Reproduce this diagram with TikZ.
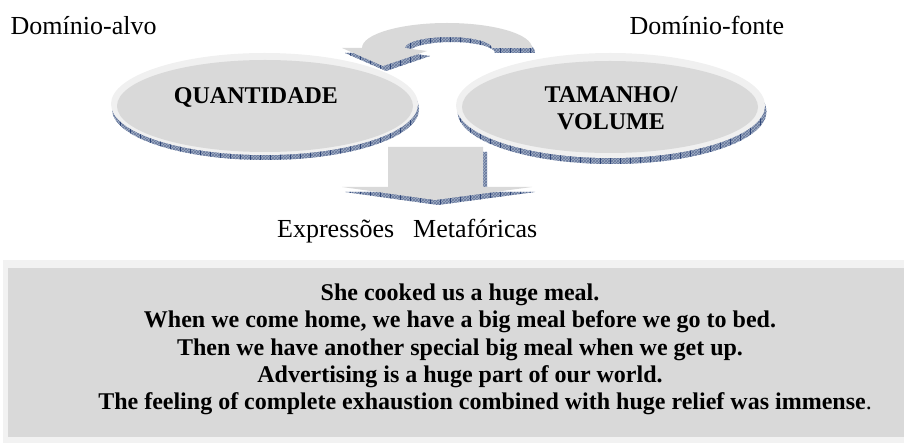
\documentclass[tikz,border=0pt]{standalone}
\usepackage{fontspec}
\setmainfont{Liberation Serif}
\usetikzlibrary{patterns}

\definecolor{shapegrey}{HTML}{D9D9D9}
\definecolor{rimgrey}{HTML}{F0F0F0}
\definecolor{bevelbase}{HTML}{A3B0C6}
\definecolor{bevelline}{HTML}{2F4678}
\definecolor{boxouter}{HTML}{F2F2F2}

\tikzset{
  x=1pt, y=-1pt,
  bevel/.style={preaction={fill=bevelbase}, pattern=crosshatch, pattern color=bevelline!75},
  face/.style={fill=shapegrey},
  rim/.style={fill=rimgrey},
  lbl/.style={inner sep=0pt, font=\fontsize{26}{30}\selectfont},
  ttl/.style={inner sep=0pt, font=\fontsize{24}{27}\selectfont\bfseries},
  sentence/.style={inner sep=0pt, anchor=base, font=\fontsize{24}{27}\selectfont\bfseries},
}

% vertical ticks on a bevel band, clipped to the given path
\newcommand\bevelticks[1]{%
  \begin{scope}
    \clip #1;
    \foreach \tx in {0,10,...,900}
      \draw[bevelline, line width=0.8pt] (\tx,0) -- (\tx,443);
  \end{scope}}

\begin{document}
\begin{tikzpicture}
\useasboundingbox (0,0) rectangle (904,443);

% ---- curved arrow from source to target domain ----
\def\curvedpath{(535,53) arc[start angle=0, end angle=-180, x radius=85, y radius=25]
  -- (345,53) -- (386,71) -- (430,56) -- (408,53)
  arc[start angle=180, end angle=360, x radius=43.5, y radius=11] -- cycle}
\path[bevel] \curvedpath;
\bevelticks{\curvedpath}
\fill[face] (532,48) arc[start angle=0, end angle=-180, x radius=85, y radius=25]
  -- (342,48) -- (383,66) -- (427,51) -- (405,48)
  arc[start angle=180, end angle=360, x radius=43.5, y radius=11] -- cycle;

% ---- target domain ellipse ----
\path[bevel] (265.5,109) ellipse[x radius=153.5, y radius=51];
\bevelticks{(265.5,109) ellipse[x radius=153.5, y radius=51]}
\fill[rim] (264.5,104) ellipse[x radius=153.5, y radius=51];
\fill[face] (265,106) ellipse[x radius=148, y radius=46];

% ---- source domain ellipse ----
\path[bevel] (612,111.5) ellipse[x radius=154.5, y radius=52.5];
\bevelticks{(612,111.5) ellipse[x radius=154.5, y radius=52.5]}
\fill[rim] (610.5,105.5) ellipse[x radius=154.5, y radius=52.5];
\fill[face] (610,107) ellipse[x radius=148, y radius=46];

% ---- downward block arrow ----
\def\downpath{(392,152) -- (487,152) -- (487,192) -- (535,192) -- (438,205) -- (345,192) -- (392,192) -- cycle}
\path[bevel] \downpath;
\bevelticks{\downpath}
\fill[face] (388,147) -- (483,147) -- (483,187) -- (532,187) -- (435,200) -- (342,187) -- (388,187) -- cycle;

% ---- example box ----
\fill[boxouter] (3,260) rectangle (904,443);
\fill[face] (8,268) rectangle (904,437);

% ---- labels ----
\node[lbl, anchor=base west] (alvo) at (10.5,34.5) {Domínio-alvo};
\node[lbl, anchor=base west] (fonte) at (629.5,34.5) {Domínio-fonte};
\node[ttl, anchor=base] (quant) at (256,104) {QUANTIDADE};
\node[ttl, anchor=base] (tam) at (611,103) {TAMANHO/};
\node[ttl, anchor=base] (vol) at (611,130) {VOLUME};
\node[lbl, anchor=base west] (expr) at (277,238) {Expressões\hspace{0.5em}\hspace{6pt}Metafóricas};

% ---- example sentences ----
\node[sentence] (s1) at (460,300.5) {She cooked us a huge meal.};
\node[sentence] (s2) at (460,327.8) {When we come home, we have a big meal before we go to bed.};
\node[sentence] (s3) at (460,355.1) {Then we have another special big meal when we get up.};
\node[sentence] (s4) at (460,382.4) {Advertising is a huge part of our world.};
\node[sentence] (s5) at (485,409.7) {The feeling of complete exhaustion combined with huge relief was immense\mdseries.};
\end{tikzpicture}
\end{document}
